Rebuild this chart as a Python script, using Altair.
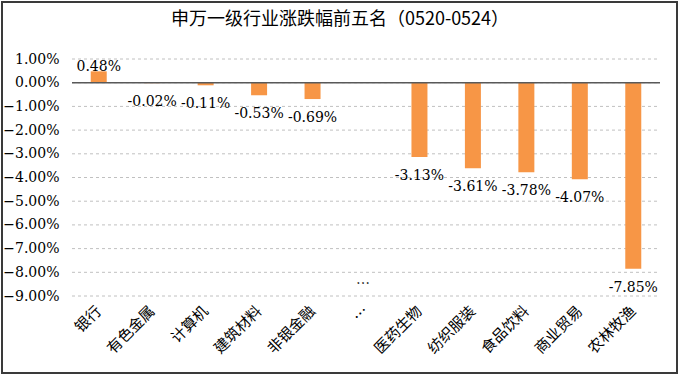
import altair as alt
import pandas as pd

categories = ["银行", "有色金属", "计算机", "建筑材料", "非银金融", "…",
              "医药生物", "纺织服装", "食品饮料", "商业贸易", "农林牧渔"]
values = [0.48, -0.02, -0.11, -0.53, -0.69, None,
          -3.13, -3.61, -3.78, -4.07, -7.85]
y_ticks = [1, 0, -1, -2, -3, -4, -5, -6, -7, -8, -9]
ellipsis_cat = ["…"]
ellipsis_val = [-8.5]
title_text = ["申万一级行业涨跌幅前五名（0520-0524）"]

W, H = 588, 237
NUM_FONT = "DejaVu Serif"
CJK_FONT = "Noto Sans CJK SC"

df = pd.DataFrame({"cat": categories, "val": values})
df["label"] = [("" if v is None or pd.isna(v) else f"{v:.2f}%") for v in df["val"]]
df_pos = df[df["val"] > 0]
df_neg = df[df["val"] <= 0]
df_ell = pd.DataFrame({"cat": ellipsis_cat, "val": ellipsis_val, "label": ["…"]})

xscale = alt.Scale(domain=categories, paddingInner=0, paddingOuter=0)
yscale = alt.Scale(domain=[-9, 1], nice=False, zero=False)

x_axis = alt.Axis(title=None, labelAngle=-45, labelAlign="right",
                  labelBaseline="middle", labelPadding=12,
                  labelFont=CJK_FONT, labelFontSize=15,
                  labelColor="#000000", domain=False, ticks=False,
                  grid=False, labelOverlap=False)
y_axis = alt.Axis(title=None, values=y_ticks,
                  labelExpr="format(datum.value, '.2f') + '%'",
                  labelFont=NUM_FONT, labelFontSize=14,
                  labelColor="#000000", labelPadding=13,
                  domain=False, ticks=False, grid=False)


def X(field="cat"):
    return alt.X(f"{field}:N", sort=categories, scale=xscale, axis=x_axis)


def Y(field):
    return alt.Y(f"{field}:Q", scale=yscale, axis=y_axis)


grid = alt.Chart(pd.DataFrame({"val": y_ticks})).mark_rule(
    color="#c0c0c0", strokeDash=[3, 3], strokeWidth=1
).encode(y=Y("val"), x=alt.value(0), x2=alt.value(W))

bars = alt.Chart(df).mark_bar(color="#F79646", width=16).encode(
    x=X(), y=Y("val"), y2=alt.datum(0))

zero = alt.Chart(pd.DataFrame({"val": [0]})).mark_rule(
    color="#595959", strokeWidth=1.5
).encode(y=Y("val"), x=alt.value(0), x2=alt.value(W))

lab_pos = alt.Chart(df_pos).mark_text(
    font=NUM_FONT, fontSize=14, color="#000000", baseline="middle", dy=-4
).encode(x=X(), y=Y("val"), text="label:N")

lab_neg = alt.Chart(df_neg).mark_text(
    font=NUM_FONT, fontSize=14, color="#000000", baseline="middle", dy=19
).encode(x=X(), y=Y("val"), text="label:N")

lab_ell = alt.Chart(df_ell).mark_text(
    font=CJK_FONT, fontSize=14, color="#000000", baseline="middle", dx=-3
).encode(x=X(), y=Y("val"), text="label:N")

title = alt.Chart(pd.DataFrame({"t": title_text})).mark_text(
    font=CJK_FONT, fontSize=18, color="#000000", align="center", baseline="middle"
).encode(x=alt.value(W / 2 - 26), y=alt.value(-39), text="t:N")

border = alt.Chart(pd.DataFrame({"a": [0]})).mark_rect(
    fill=None, stroke="#3a3a3a", strokeWidth=2
).encode(x=alt.value(-70), x2=alt.value(W + 17),
         y=alt.value(-57), y2=alt.value(H + 77))

chart = alt.layer(grid, bars, zero, lab_pos, lab_neg, lab_ell, title, border).properties(
    width=W, height=H,
    background="#ffffff",
    autosize=alt.AutoSizeParams(type="none"),
    padding={"left": 72, "right": 19, "top": 59, "bottom": 80},
).configure_view(stroke=None)

chart.save("out.html", embed_options={"renderer": "svg", "actions": False})
